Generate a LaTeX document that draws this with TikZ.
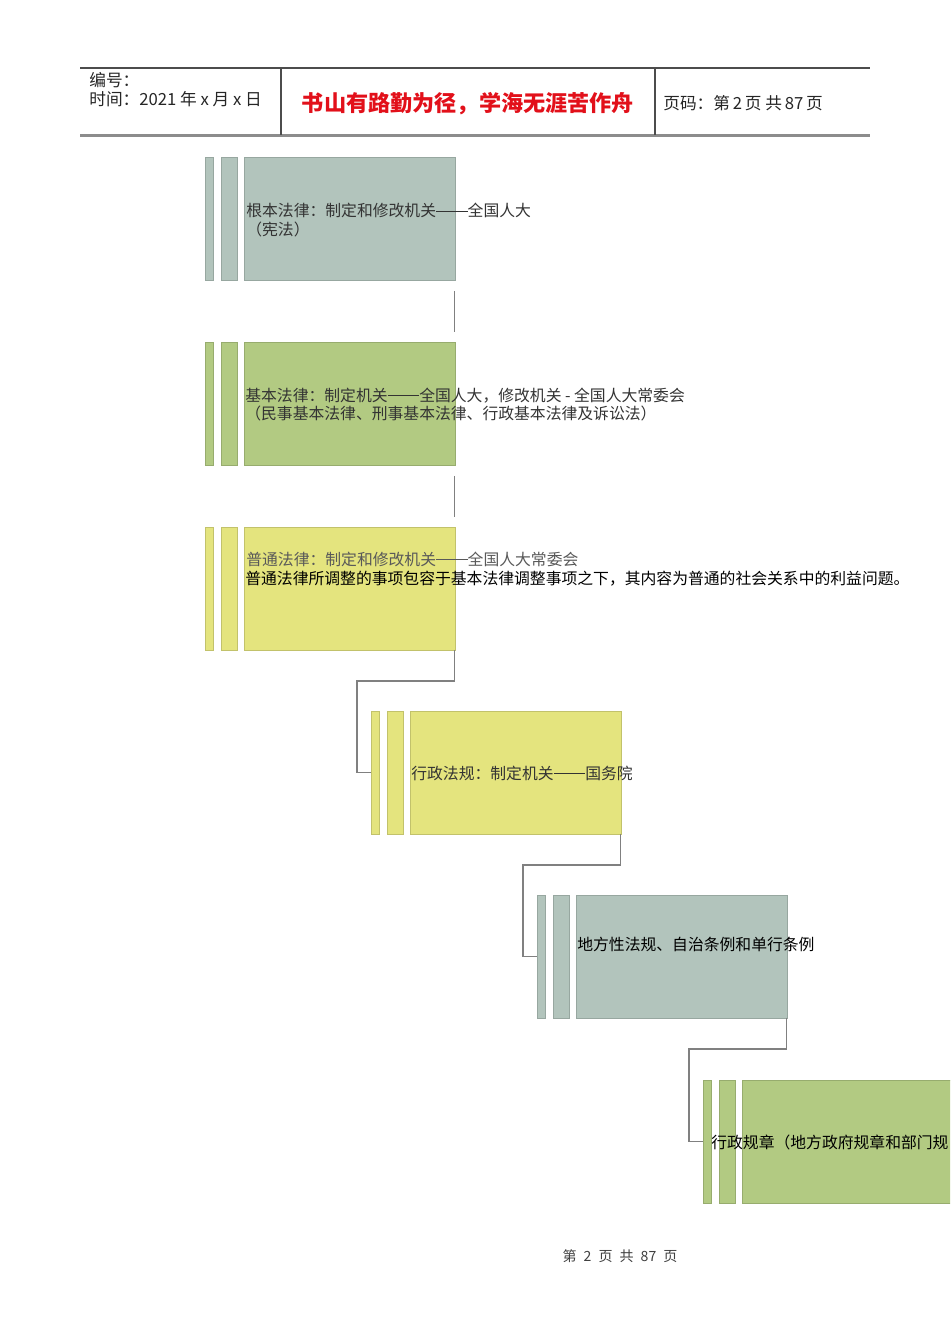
\documentclass[tikz,border=0pt]{standalone}
\usepackage{fontspec}
\setmainfont{Noto Sans CJK SC}
\usepackage{tikz}
\definecolor{sage}{HTML}{B2C4BC}
\definecolor{leaf}{HTML}{B2CA82}
\definecolor{straw}{HTML}{E4E47E}
\definecolor{motto}{HTML}{E2101A}
\newcommand{\longdash}{\rule[0.33em]{2em}{0.05em}}
\tikzstyle{thinbar}=[rectangle, anchor=north west, inner sep=0pt, outer sep=0pt,
    minimum width=0.16cm, minimum height=2.46cm, line width=0.4pt]
\tikzstyle{widebar}=[thinbar, minimum width=0.32cm]
\tikzstyle{lawbox}=[thinbar, minimum width=4.22cm]
\tikzstyle{link}=[draw, black!50, line width=0.6pt]
\tikzstyle{lawtext}=[anchor=west, align=left, inner sep=0pt, text=black!80,
    font=\fontsize{9pt}{10.3pt}\selectfont]

\begin{document}
\begin{tikzpicture}[x=0.02cm, y=-0.02cm]
    \tikzstyle{headtext}=[anchor=west, inner sep=0pt, text=black!85,
        font=\fontsize{9.5pt}{11pt}\selectfont]

  \useasboundingbox (0,0) rectangle (950,1344);
  \fill[white] (0,0) rectangle (950,1344);
  \clip (0,0) rectangle (950,1344);

  \draw[black!70, line width=0.6pt] (80,68) -- (870,68);
  \draw[black!45, line width=1.3pt] (80,135.5) -- (870,135.5);
  \draw[black!70, line width=0.6pt] (281,68) -- (281,135);
  \draw[black!70, line width=0.6pt] (655,68) -- (655,135);
  \node[headtext] (serial) at (89,80) {编号：};
  \node[headtext] (date) at (89,99) {时间：2021 年 x 月 x 日};
  \node[text=motto, inner sep=0pt, font=\fontsize{12.6pt}{14pt}\selectfont\bfseries]
      (slogan) at (468,104) {书山有路勤为径，学海无涯苦作舟};
  \node[headtext] (pageno) at (663,103) {页码：第\,2\,页 共\,87\,页};

  \foreach \name/\x/\y/\col in {rank1/205/157/sage, rank2/205/342/leaf,
                                rank3/205/527/straw, rank4/371/711/straw,
                                rank5/537/895/sage, rank6/703/1080/leaf}
  {
        \node[thinbar, fill=\col, draw=\col!85!black] (\name a) at (\x,\y) {};
        \node[widebar, fill=\col, draw=\col!85!black] (\name b) at (\x+16,\y) {};
        \node[lawbox, fill=\col, draw=\col!85!black] (\name) at (\x+39,\y) {};
  }

  \path[link] ([yshift=-0.22cm]rank1.south east) -- ([yshift=0.2cm]rank2.north east);
  \path[link] ([yshift=-0.22cm]rank2.south east) -- ([yshift=0.2cm]rank3.north east);
  \foreach \a/\b in {rank3/rank4a, rank4/rank5a, rank5/rank6a}
      \path[link] (\a.south east) -- ++(0,-0.62cm) -| ([xshift=-0.28cm]\b.west)
          -- (\b.west);

  \node[lawtext] (law1) at (246,220) {根本法律：制定和修改机关\longdash 全国人大\\（宪法）};
  \node[lawtext] (law2) at (245,404.5)
      {基本法律：制定机关\longdash 全国人大，修改机关 - 全国人大常委会\\（民事基本法律、刑事基本法律、行政基本法律及诉讼法）};
  \node[lawtext, text=black!65] (law3) at (246,559) {普通法律：制定和修改机关\longdash 全国人大常委会};
  \node[lawtext, text=black] (law3note) at (245,579)
      {普通法律所调整的事项包容于基本法律调整事项之下，其内容为普通的社会关系中的利益问题。};
  \node[lawtext] (law4) at (411,773) {行政法规：制定机关\longdash 国务院};
  \node[lawtext, text=black] (law5) at (577,944) {地方性法规、自治条例和单行条例};
  \node[lawtext, text=black] (law6) at (711,1142) {行政规章（地方政府规章和部门规};

  \node[inner sep=0pt, text=black!75, font=\fontsize{8pt}{9pt}\selectfont]
      (footer) at (620,1256) {第\enspace 2\enspace 页\enspace 共\enspace 87\enspace 页};

\end{tikzpicture}
\end{document}
